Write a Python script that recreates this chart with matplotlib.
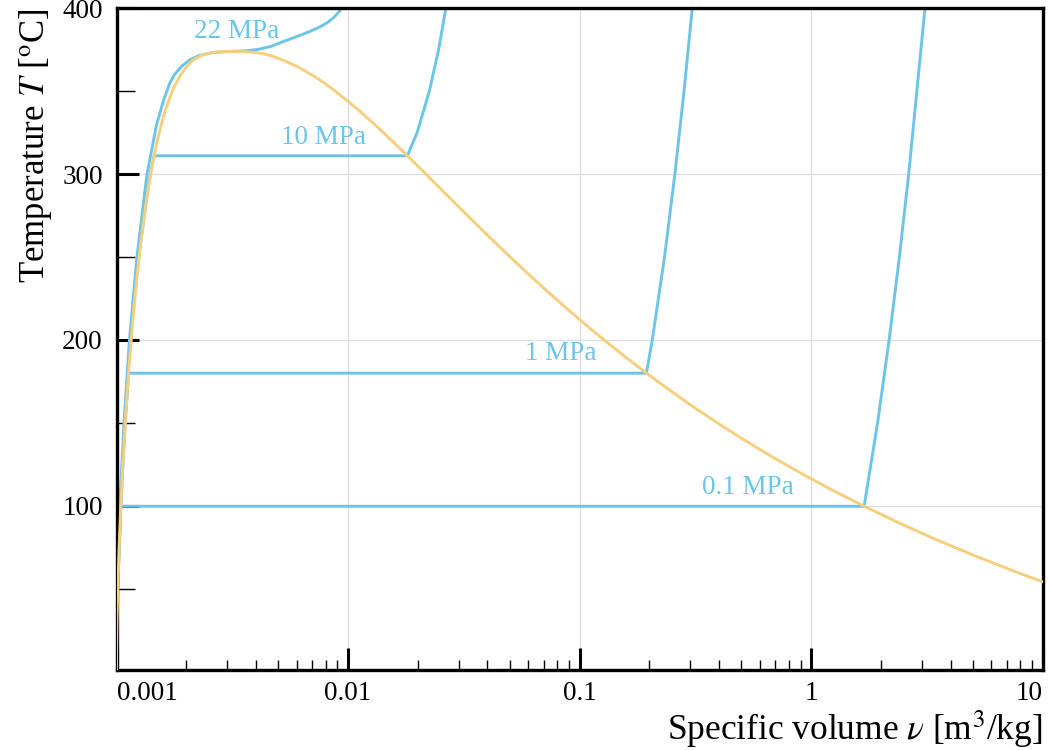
import matplotlib
matplotlib.use("Agg")
import matplotlib.pyplot as plt
from matplotlib.ticker import FixedLocator, NullFormatter

plt.rcParams["font.family"] = ["Liberation Serif", "DejaVu Serif"]
plt.rcParams["mathtext.fontset"] = "stix"

# saturation dome of water (T in C, v in m3/kg)
sat_T = [0.01, 10, 20, 30, 40, 50, 60, 70, 80, 90, 100, 110, 120, 130, 140,
         150, 160, 170, 180, 190, 200, 210, 220, 230, 240, 250, 260, 270,
         280, 290, 300, 310, 320, 330, 340, 350, 355, 360, 365, 368, 370,
         371.5, 372.5, 373.2, 373.6, 373.85, 373.95]
sat_vf = [0.001000, 0.001000, 0.001002, 0.001004, 0.001008, 0.001012,
          0.001017, 0.001023, 0.001029, 0.001036, 0.001043, 0.001052,
          0.001060, 0.001070, 0.001080, 0.001091, 0.001102, 0.001114,
          0.001127, 0.001141, 0.001157, 0.001173, 0.001190, 0.001209,
          0.001229, 0.001252, 0.001276, 0.001303, 0.001333, 0.001366,
          0.001404, 0.001448, 0.001499, 0.001561, 0.001638, 0.001740,
          0.001809, 0.001895, 0.002016, 0.002110, 0.002217, 0.002320,
          0.002440, 0.002580, 0.002720, 0.002880, 0.003106]
sat_vg = [206.0, 106.32, 57.762, 32.879, 19.515, 12.026, 7.667, 5.0396,
          3.4053, 2.3593, 1.672, 1.2094, 0.89133, 0.66808, 0.5085, 0.39248,
          0.30683, 0.24283, 0.19405, 0.15654, 0.12736, 0.10441, 0.08619,
          0.07158, 0.05976, 0.05013, 0.04221, 0.03564, 0.03017, 0.02557,
          0.02167, 0.01835, 0.01549, 0.013, 0.0108, 0.008811, 0.00788,
          0.00695, 0.00600, 0.00537, 0.004953, 0.00462, 0.00432, 0.00403,
          0.00376, 0.00350, 0.003106]

# isobars
p01_T = [0.01, 50, 99.61, 99.61, 150, 200, 250, 300, 400]
p01_v = [0.0010002, 0.0010121, 0.0010432, 1.6941, 1.9367, 2.1724, 2.4062, 2.6389, 3.1027]

p1_T = [0.01, 50, 100, 150, 179.88, 179.88, 200, 250, 300, 350, 400]
p1_v = [0.0009995, 0.0010117, 0.001043, 0.00109, 0.0011272, 0.19436,
        0.20602, 0.23275, 0.25799, 0.2825, 0.30661]

p10_T = [0.01, 50, 100, 150, 200, 250, 300, 311.0, 311.0, 325, 350, 375, 400]
p10_v = [0.0009952, 0.0010074, 0.0010385, 0.001086, 0.001148, 0.0012463,
         0.0013972, 0.0014524, 0.018028, 0.019877, 0.02244, 0.02461, 0.026436]

p22_T = [0.01, 50, 100, 150, 200, 250, 300, 330, 345, 355, 360, 365, 369,
         371.5, 373.2, 373.9, 374.3, 375.2, 377, 379.5, 382.5, 385.5, 388.5,
         391.6, 394.6, 397.6, 400]
p22_v = [0.0009894, 0.0010024, 0.0010327, 0.0010772, 0.001137, 0.001225,
         0.001354, 0.00149, 0.00160, 0.00170, 0.00178, 0.00191, 0.00208,
         0.00228, 0.00258, 0.0030, 0.0036, 0.0041, 0.00465, 0.00515, 0.0059,
         0.0067, 0.0075, 0.0082, 0.0087, 0.0091, 0.0094]

labels = ["22 MPa", "10 MPa", "1 MPa", "0.1 MPa"]
label_v = [0.00329, 0.0078, 0.0828, 0.535]
label_T = [386, 322, 192, 111]

blue = "#6cc5e9"
yellow = "#f5cf7e"

fig = plt.figure(figsize=(10.5, 7.5), dpi=100)
ax = fig.add_axes([0.111, 0.107, 0.882, 0.882])

for T, v in [(p01_T, p01_v), (p1_T, p1_v), (p10_T, p10_v), (p22_T, p22_v)]:
    ax.plot(v, T, color=blue, lw=2.1, zorder=2)
ax.plot(sat_vf, sat_T, color=yellow, lw=2.1, zorder=3)
ax.plot(sat_vg, sat_T, color=yellow, lw=2.1, zorder=3)

for txt, v, T in zip(labels, label_v, label_T):
    ax.text(v, T, txt, color=blue, fontsize=19.5, ha="center", va="center")

ax.set_xscale("log")
ax.set_xlim(0.001, 10)
ax.set_ylim(1, 400)

ax.xaxis.set_major_locator(FixedLocator([0.001, 0.01, 0.1, 1, 10]))
ax.set_xticklabels(["0.001", "0.01", "0.1", "1", "10"])
xlabs = ax.get_xticklabels()
xlabs[0].set_ha("left")
xlabs[-1].set_ha("right")
ax.yaxis.set_major_locator(FixedLocator([100, 200, 300, 400]))
ax.yaxis.set_minor_locator(FixedLocator([50, 150, 250, 350]))
ax.yaxis.set_minor_formatter(NullFormatter())

ax.tick_params(which="major", direction="in", length=16, width=2.2, labelsize=19.5)
ax.tick_params(axis="y", which="major", pad=10)
ax.tick_params(axis="x", which="major", pad=8)
ax.tick_params(axis="y", which="minor", direction="in", length=13, width=1.0)
ax.tick_params(axis="x", which="minor", direction="in", length=7, width=1.0)

for s in ax.spines.values():
    s.set_linewidth(2.4)

ax.grid(True, which="major", color="#dddddd", lw=0.9, zorder=0)

ax.set_xlabel(r"Specific volume $\nu$ [m$^3$/kg]", fontsize=25.5, loc="right", labelpad=2)
ax.set_ylabel(r"Temperature $T$ [$^{\mathrm{o}}$C]", fontsize=25, loc="top", labelpad=6)

fig.savefig("out.png")
